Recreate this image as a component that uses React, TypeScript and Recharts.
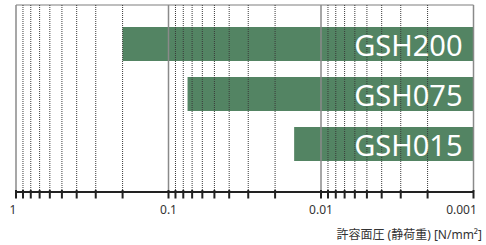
import React from "react";
import {
  BarChart, Bar, XAxis, YAxis, CartesianGrid, ReferenceLine, LabelList,
} from "recharts";

// allowable surface pressure (static load), N/mm²
const products = ["GSH200", "GSH075", "GSH015"];
const minPressure = [0.2, 0.075, 0.015];
const axisMin = 0.001;
const axisMax = 1;
const majorTicks = [1, 0.1, 0.01, 0.001];
const minorSteps = [2, 3, 4, 5, 6, 7, 8, 9];
const tickLabels = ["1", "0.1", "0.01", "0.001"];
const axisTitle = "許容面圧 (静荷重) [N/mm²]";

const BAR     = "#538463";
const MAJOR   = "#8a8a8a";
const MINOR   = "#3a3a3a";
const AXIS    = "#222222";
const TEXT    = "#333333";
const FONT    = "'Noto Sans', 'Noto Sans CJK JP', sans-serif";

const data = products.map((name, i) => ({
  name,
  range: [axisMin, minPressure[i]],
}));

const minorTicks = [0.1, 0.01, 0.001].flatMap((d) => minorSteps.map((s) => +(s * d).toPrecision(3)));
const allTicks = [...majorTicks, ...minorTicks].sort((a, b) => b - a);

const AxisTick = (props: any) => {
  const { x, y, payload } = props;
  const idx = majorTicks.indexOf(payload.value);
  // nudge the end labels so they stay inside the frame
  const dx = payload.value === 1 ? -3 : payload.value === 0.001 ? -12 : 0;
  return (
    <g>
      <line x1={x} x2={x} y1={y - 2} y2={y + 6.5} stroke={AXIS} strokeWidth={2} />
      {idx >= 0 && (
        <text
          x={x + dx}
          y={y + 22}
          textAnchor="middle"
          fontSize={12}
          fill={TEXT}
          fontFamily={FONT}
        >
          {tickLabels[idx]}
        </text>
      )}
    </g>
  );
};

// name drawn at the right (0.001) end of each bar
const BarName = (props: any) => {
  const { x, y, width, height, value } = props;
  const right = Math.max(x, x + width);
  return (
    <text
      x={right - 11}
      y={y + height / 2}
      textAnchor="end"
      dominantBaseline="central"
      fill="#ffffff"
      fontSize={29}
      fontFamily={FONT}
    >
      {value}
    </text>
  );
};

export default function App() {
  return (
    <div style={{ position: "absolute", left: 0, top: 0, width: 486, height: 245 }}>
      <BarChart
        width={486}
        height={245}
        data={data}
        layout="vertical"
        margin={{ top: 5, right: 12.5, bottom: 0, left: 16 }}
      >
        <CartesianGrid
          vertical={false}
          horizontalCoordinatesGenerator={({ offset }: any) => [offset.top]}
          stroke="#a8a8a8"
          strokeWidth={1.5}
        />
        <XAxis
          type="number"
          scale="log"
          domain={[axisMin, axisMax]}
          reversed
          allowDataOverflow
          ticks={allTicks}
          interval={0}
          tick={<AxisTick />}
          tickLine={false}
          tickSize={0}
          tickMargin={0}
          axisLine={{ stroke: AXIS, strokeWidth: 2 }}
          height={53}
        />
        <YAxis
          type="category"
          dataKey="name"
          hide
          padding={{ top: 14, bottom: 23 }}
        />
        <Bar dataKey="range" fill={BAR} barSize={34} isAnimationActive={false}>
          <LabelList dataKey="name" content={<BarName />} />
        </Bar>
        {minorTicks.map((v) => (
          <ReferenceLine key={`m${v}`} x={v} stroke={MINOR} strokeDasharray="1 1" />
        ))}
        {majorTicks.map((v) => (
          <ReferenceLine key={`M${v}`} x={v} stroke={MAJOR} strokeWidth={1.5} />
        ))}
      </BarChart>
      <div
        style={{
          position: "absolute",
          right: 4,
          top: 225,
          fontSize: 12,
          color: TEXT,
          fontFamily: FONT,
          whiteSpace: "nowrap",
        }}
      >
        {axisTitle}
      </div>
    </div>
  );
}
